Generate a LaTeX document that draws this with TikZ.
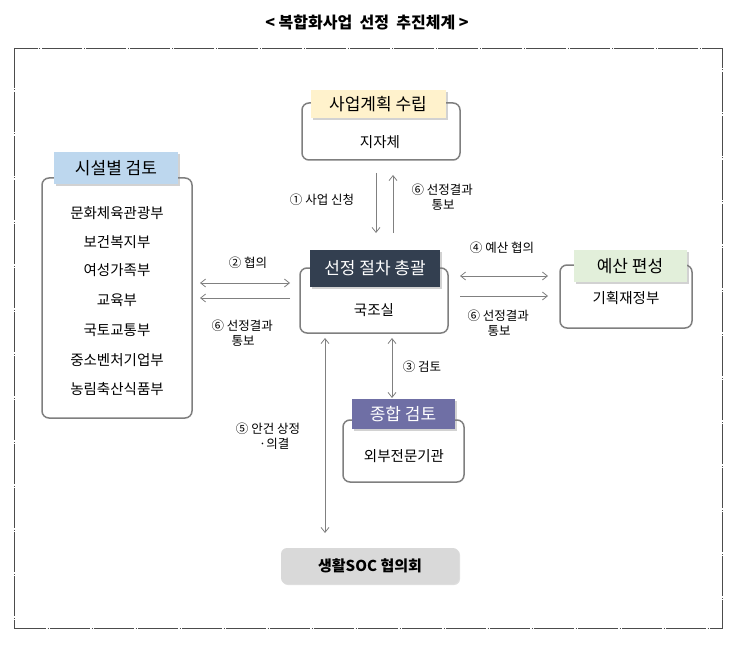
\documentclass[tikz,border=0pt]{standalone}
\usepackage{fontspec}
\setmainfont{Noto Sans CJK KR}
\usetikzlibrary{arrows.meta,shadows}
\definecolor{boxline}{HTML}{7F7F7F}
\definecolor{arr}{HTML}{808080}
\definecolor{tagyellow}{HTML}{FFF2CC}
\definecolor{tagblue}{HTML}{BDD7EE}
\definecolor{tagdark}{HTML}{333F50}
\definecolor{taggreen}{HTML}{E2EFDA}
\definecolor{tagpurple}{HTML}{6F6FA5}
\tikzset{
  panel/.style={draw=boxline,line width=1.5pt,rounded corners=7pt},
  tag/.style={anchor=center,inner sep=0pt,font=\fontsize{17}{20}\selectfont,drop shadow={shadow xshift=2pt,shadow yshift=-2pt,opacity=0.35}},
  body/.style={font=\fontsize{14.5}{17}\selectfont},
  lbl/.style={font=\fontsize{12.5}{15}\selectfont,align=left},
  con/.style={draw=arr,line width=0.8pt,-{Straight Barb[length=5pt,width=8pt]}},
  dcon/.style={draw=arr,line width=0.8pt,{Straight Barb[length=5pt,width=8pt]}-{Straight Barb[length=5pt,width=8pt]}},
}
\begin{document}
\begin{tikzpicture}[x=1pt,y=-1pt]
\useasboundingbox (0,0) rectangle (734,650);
\fill[white] (0,0) rectangle (734,650);
\node[font=\bfseries\fontsize{16}{19}\selectfont] (title) at (367,22) {<\ 복합화사업\ \ 선정\ \ 추진체계\ >};
\draw[black!70,line width=0.6pt,dash pattern=on 40pt off 1.5pt on 1pt off 1.5pt] (14,48) rectangle (722,628);

% 사업계획 수립
\draw[panel] (302,103) rectangle (460,160);
\node[tag,fill=tagyellow,minimum width=135pt,minimum height=28pt] (plan) at (378,104) {사업계획 수립};
\node[body] (jijache) at (380,142) {지자체};

% 시설별 검토
\draw[panel] (42,178) rectangle (192,418);
\node[tag,fill=tagblue,minimum width=124pt,minimum height=32pt] (fac) at (116,168) {시설별 검토};
\foreach \t/\y/\n in {문화체육관광부/213/m1,보건복지부/242/m2,여성가족부/270/m3,교육부/300/m4,국토교통부/330/m5,중소벤처기업부/360/m6,농림축산식품부/389/m7}
  \node[body] (\n) at (117,\y) {\t};

% 선정 절차 총괄
\draw[panel] (300,268) rectangle (448,333);
\node[tag,fill=tagdark,text=white,minimum width=130pt,minimum height=37pt] (sel) at (375,268) {선정 절차 총괄};
\node[body] (gukjo) at (374,310) {국조실};

% 예산 편성
\draw[panel] (560,265) rectangle (692,328);
\node[tag,fill=taggreen,minimum width=113pt,minimum height=32pt] (bud) at (630,266) {예산 편성};
\node[body] (moef) at (626,298) {기획재정부};

% 종합 검토
\draw[panel] (343,420) rectangle (464,482);
\node[tag,fill=tagpurple,text=white,minimum width=103pt,minimum height=30pt] (rev) at (403,414) {종합 검토};
\node[body] (ext) at (404,456) {외부전문기관};

% 생활SOC 협의회
\node[fill=black!15,rounded corners=6pt,minimum width=178pt,minimum height=36pt,font=\bfseries\fontsize{15}{18}\selectfont,drop shadow={shadow xshift=1pt,shadow yshift=-1pt,opacity=0.25}] (soc) at (370,566) {생활SOC 협의회};

% connector end points
\coordinate (a1s) at (376,173); \coordinate (a1e) at (376,233);
\coordinate (a6s) at (393,233); \coordinate (a6e) at (393,175);
\coordinate (l1) at (200,283); \coordinate (r1) at (290,283);
\coordinate (l2) at (290,298); \coordinate (r2) at (200,298);
\coordinate (e1) at (460,276); \coordinate (f1) at (548,276);
\coordinate (e2) at (460,296); \coordinate (f2) at (548,296);
\coordinate (v3a) at (392,338); \coordinate (v3b) at (392,398);
\coordinate (v5a) at (325,338); \coordinate (v5b) at (325,533);

\draw[con] (a1s) -- (a1e);
\draw[con] (a6s) -- (a6e);
\draw[dcon] (l1) -- (r1);
\draw[con] (l2) -- (r2);
\draw[dcon] (e1) -- (f1);
\draw[con] (e2) -- (f2);
\draw[dcon] (v3a) -- (v3b);
\draw[dcon] (v5a) -- (v5b);

\node[lbl] (t1) at (322,200) {①\ 사업\ 신청};
\node[lbl,anchor=west] (t6a) at (408,197) {⑥\ 선정결과\\\hspace*{1.6em}통보};
\node[lbl] (t2) at (248,263) {②\ 협의};
\node[lbl,anchor=west] (t6b) at (208,333) {⑥\ 선정결과\\\hspace*{1.6em}통보};
\node[lbl] (t4) at (502,248) {④\ 예산\ 협의};
\node[lbl,anchor=west] (t6c) at (464,323) {⑥\ 선정결과\\\hspace*{1.6em}통보};
\node[lbl] (t3) at (422,367) {③\ 검토};
\node[lbl,align=center] (t5) at (268,436) {⑤\ 안건\ 상정\\\hspace*{1em}·의결};
\end{tikzpicture}
\end{document}
